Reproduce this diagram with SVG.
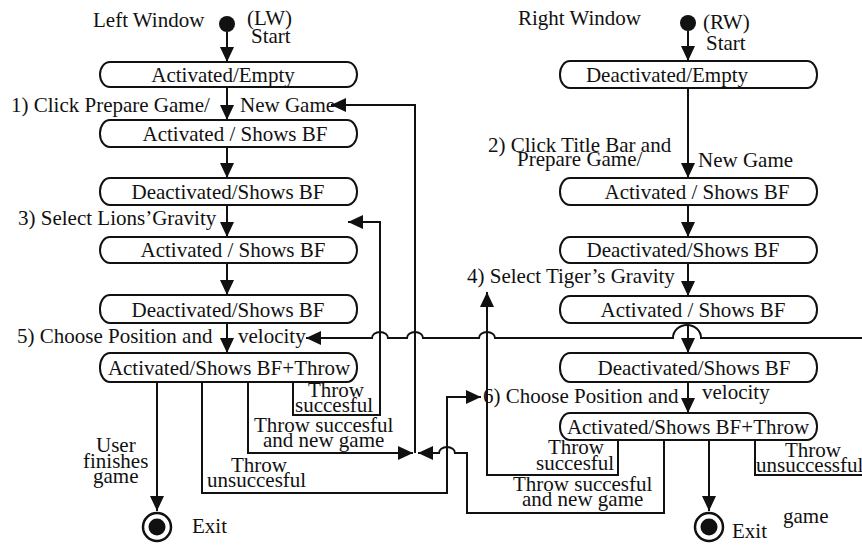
<svg xmlns="http://www.w3.org/2000/svg" width="862" height="545" viewBox="0 0 862 545">
<style>
text{font-family:"Liberation Serif","Times New Roman",serif;font-size:21px;fill:#111}
.n{text-anchor:middle}
.box{fill:#fff;stroke:#111;stroke-width:2}
.c{fill:none;stroke:#111;stroke-width:2}
.a{marker-end:url(#ah)}
.ring{fill:#fff;stroke:#111;stroke-width:2.5}
</style>
<defs>
<marker id="ah" markerUnits="userSpaceOnUse" markerWidth="16" markerHeight="15" refX="15" refY="7" orient="auto">
<path d="M0,0 L15,7 L0,14 z" fill="#111"/>
</marker>
</defs>
<rect width="862" height="545" fill="#fff"/>
<g id="connectors">
<path class="c a" d="M227 32 V62"/>
<path class="c a" d="M227 87 V120"/>
<path class="c a" d="M415 453 V105 H331"/>
<path class="c a" d="M227 147 V178"/>
<path class="c a" d="M227 205 V237"/>
<path class="c a" d="M293 382 V415 H380 V222 H348"/>
<path class="c a" d="M227 263 V295"/>
<path class="c a" d="M227 323 V353"/>
<path class="c a" d="M862 338 H701 A14 13 0 0 0 673 338 H495 a8 6 0 0 0 -16 0 H423 a8 6 0 0 0 -16 0 H388 a8 6 0 0 0 -16 0 H306"/>
<path class="c a" d="M248 382 V453 H413"/>
<path class="c a" d="M664 440 V513 H467 V453 H455 a8 6 0 0 0 -16 0 H418"/>
<path class="c a" d="M202 382 V493 H447 V397 H481"/>
<path class="c a" d="M157 382 V511"/>
<path class="c a" d="M709 440 V511"/>
<path class="c a" d="M688 31 V61"/>
<path class="c a" d="M688 88 V178"/>
<path class="c a" d="M688 205 V237"/>
<path class="c a" d="M688 263 V296"/>
<path class="c a" d="M688 323 V353"/>
<path class="c a" d="M688 382 V413"/>
<path class="c a" d="M618 440 V475 H487 V292"/>
<path class="c" d="M755 440 V475 H862"/>
</g>
<g id="lw-start"><circle cx="227" cy="24" r="8" fill="#111"/><text x="93" y="27">Left Window</text><text x="247" y="25">(LW)</text><text x="251" y="43">Start</text></g>
<g id="l1"><rect class="box" x="100" y="62" width="257" height="25" rx="10" ry="12.5"/><text class="n" x="223" y="82">Activated/Empty</text></g>
<g id="l2"><rect class="box" x="100" y="120" width="257" height="27" rx="10" ry="13"/><text class="n" x="235" y="141">Activated / Shows BF</text></g>
<g id="l3"><rect class="box" x="100" y="178" width="257" height="27" rx="10" ry="13"/><text class="n" x="228" y="199">Deactivated/Shows BF</text></g>
<g id="l4"><rect class="box" x="100" y="237" width="257" height="26" rx="10" ry="13"/><text class="n" x="233" y="257">Activated / Shows BF</text></g>
<g id="l5"><rect class="box" x="100" y="295" width="257" height="28" rx="10" ry="13"/><text class="n" x="228" y="317">Deactivated/Shows BF</text></g>
<g id="l6"><rect class="box" x="100" y="353" width="257" height="29" rx="10" ry="14"/><text class="n" x="229" y="375">Activated/Shows BF+Throw</text></g>
<g id="l-exit"><circle class="ring" cx="157" cy="527" r="14"/><circle cx="157" cy="527" r="8.5" fill="#111"/><text x="192" y="533">Exit</text></g>
<g id="rw-start"><circle cx="688" cy="23" r="8" fill="#111"/><text x="518" y="25">Right Window</text><text x="703" y="29">(RW)</text><text x="706" y="50">Start</text></g>
<g id="r1"><rect class="box" x="560" y="61" width="257" height="27" rx="10" ry="13"/><text class="n" x="667" y="82">Deactivated/Empty</text></g>
<g id="r2"><rect class="box" x="560" y="178" width="257" height="27" rx="10" ry="13"/><text class="n" x="697" y="199">Activated / Shows BF</text></g>
<g id="r3"><rect class="box" x="560" y="237" width="257" height="26" rx="10" ry="13"/><text class="n" x="683" y="257">Deactivated/Shows BF</text></g>
<g id="r4"><rect class="box" x="560" y="296" width="257" height="27" rx="10" ry="13"/><text class="n" x="693" y="317">Activated / Shows BF</text></g>
<g id="r5"><rect class="box" x="560" y="353" width="257" height="29" rx="10" ry="14"/><text class="n" x="694" y="375">Deactivated/Shows BF</text></g>
<g id="r6"><rect class="box" x="560" y="413" width="257" height="27" rx="10" ry="13"/><text class="n" x="688" y="434">Activated/Shows BF+Throw</text></g>
<g id="r-exit"><circle class="ring" cx="709" cy="527" r="14"/><circle cx="709" cy="527" r="8.5" fill="#111"/><text x="732" y="538">Exit</text></g>
<g id="labels">
<text x="11" y="112">1) Click Prepare Game/</text>
<text x="240" y="112">New Game</text>
<text x="18" y="225">3) Select Lions’Gravity</text>
<text x="17" y="343">5) Choose Position and</text>
<text x="238" y="343">velocity</text>
<text x="308" y="397">Throw</text>
<text x="295" y="412">succesful</text>
<text x="254" y="432">Throw succesful</text>
<text x="263" y="447">and new game</text>
<text x="231" y="472">Throw</text>
<text x="207" y="487">unsuccesful</text>
<text x="96" y="452">User</text>
<text x="83" y="468">finishes</text>
<text x="93" y="483">game</text>
<text x="488" y="152">2) Click Title Bar and</text>
<text x="517" y="166">Prepare Game/</text>
<text x="698" y="167">New Game</text>
<text x="467" y="283">4) Select Tiger’s Gravity</text>
<text x="483" y="403">6) Choose Position and</text>
<text x="702" y="399">velocity</text>
<text x="548" y="454">Throw</text>
<text x="536" y="470">succesful</text>
<text x="513" y="491">Throw succesful</text>
<text x="522" y="506">and new game</text>
<text x="785" y="457">Throw</text>
<text x="756" y="472">unsuccessful</text>
<text x="783" y="523">game</text>
</g>
</svg>
